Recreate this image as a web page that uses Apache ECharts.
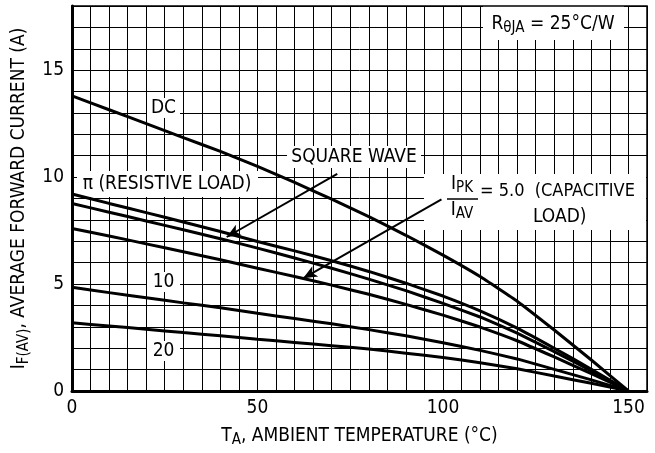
<!DOCTYPE html>
<html><head><meta charset="utf-8">
<script src="https://cdn.jsdelivr.net/npm/echarts@6/dist/echarts.min.js"></script>
<style>html,body{margin:0;padding:0;background:#fff}#c{width:655px;height:453px}</style>
</head><body><div id="c"></div>
<script>
const temps = [0,10,20,30,40,50,60,70,80,90,100,110,120,130,140,150];
const dc      = [13.8,13.15,12.5,11.85,11.2,10.5,9.75,8.97,8.15,7.28,6.35,5.35,4.2,2.85,1.45,0];
const resist  = [9.21,8.77,8.34,7.9,7.46,6.99,6.55,6.09,5.59,5.04,4.44,3.75,2.94,2.0,1.02,0];
const square  = [8.77,8.36,7.95,7.54,7.12,6.68,6.22,5.74,5.23,4.69,4.1,3.46,2.71,1.84,0.94,0];
const cap5    = [7.6,7.25,6.88,6.51,6.14,5.74,5.35,4.95,4.52,4.05,3.55,2.99,2.35,1.59,0.81,0];
const cap10   = [4.85,4.6,4.36,4.12,3.89,3.63,3.39,3.14,2.87,2.58,2.26,1.9,1.5,1.01,0.52,0];
const cap20   = [3.19,3.04,2.89,2.73,2.58,2.42,2.27,2.12,1.96,1.77,1.57,1.32,1.04,0.7,0.36,0];
const xTickLabels = [0,50,100,150];
const yTickLabels = [0,5,10,15];
const squareArrow = [[71.5,10.15],[41.7,7.2]];
const capArrow = [[99.6,8.96],[62.3,5.27]];

const F = "'Liberation Sans Narrow','Arial Narrow','DejaVu Sans Condensed',sans-serif";
const pairs = a => temps.map((t,i)=>[t,a[i]]);
const chart = echarts.init(document.getElementById('c'));
const mkSeries = (name, data) => ({
  name, type:'line', data: pairs(data), symbol:'none', smooth:0.1,
  lineStyle:{color:'#000', width:3}, z:3
});
const arrowLine = (pts) => [{coord:pts[0]},{coord:pts[1]}];

const labelBox = (cx, cy, w, h) => ({type:'rect', z:1, shape:{x:cx, y:cy, width:w, height:h}, style:{fill:'#fff'}});
const txt = (x, y, text, extra) => Object.assign({type:'text', z:2, x, y,
  style:Object.assign({text, font:"19px "+F, fill:'#000', align:'center', verticalAlign:'middle'}, extra||{})});

const subRich = {
  n:{fontFamily:F, fontSize:19, color:'#000'},
  s:{fontFamily:F, fontSize:15, color:'#000', padding:[9,0,0,0]}
};

chart.setOption({
  animation:false,
  grid:{left:72, right:8, top:6, bottom:62},
  xAxis:{type:'value', min:0, max:155, interval:5,
    name:'{n|T}{s|A}{n|, AMBIENT TEMPERATURE (°C)}', nameLocation:'middle', nameGap:33,
    nameTextStyle:{rich:subRich},
    axisLine:{show:true, onZero:false, lineStyle:{color:'#000', width:3}},
    axisTick:{show:false},
    axisLabel:{fontFamily:F, fontSize:19, color:'#000', margin:8, showMaxLabel:false,
      formatter:v => xTickLabels.indexOf(v)>=0 ? String(v) : ''},
    splitLine:{show:true, lineStyle:{color:'#000', width:1}}
  },
  yAxis:{type:'value', min:0, max:18, interval:1,
    name:'{n|I}{s|F(AV)}{n|, AVERAGE FORWARD CURRENT (A)}', nameLocation:'middle', nameGap:38, nameRotate:90,
    nameTextStyle:{rich:subRich},
    axisLine:{show:true, lineStyle:{color:'#000', width:3}},
    axisTick:{show:false},
    axisLabel:{fontFamily:F, fontSize:19, color:'#000', margin:8,
      formatter:v => yTickLabels.indexOf(v)>=0 ? String(v) : ''},
    splitLine:{show:true, lineStyle:{color:'#000', width:1}}
  },
  graphic:[
    {type:'rect', z:5, silent:true, shape:{x:72, y:6, width:575, height:385}, style:{fill:'none', stroke:'#000', lineWidth:1.5}},
    labelBox(147, 98, 33, 20), txt(163.5, 108, 'DC'),
    labelBox(77, 171, 181, 26), txt(167, 184, 'π (RESISTIVE LOAD)'),
    labelBox(287, 146, 134, 22), txt(354, 157, 'SQUARE WAVE'),
    labelBox(147, 272, 33, 20), txt(163.5, 282, '10'),
    labelBox(147, 341, 33, 20), txt(163.5, 351, '20'),
    labelBox(483, 6, 141, 34),
    {type:'text', z:2, x:553, y:24, style:{text:'{n|R}{s|θJA}{n| = 25°C/W}', rich:subRich, align:'center', verticalAlign:'middle'}},
    labelBox(424, 174, 222, 56),
    {type:'text', z:2, x:462, y:184, style:{text:'{n|I}{s|PK}', rich:subRich, align:'center', verticalAlign:'middle'}},
    {type:'line', z:2, shape:{x1:447, y1:199, x2:478, y2:199}, style:{stroke:'#000', lineWidth:1.5}},
    {type:'text', z:2, x:462, y:210, style:{text:'{n|I}{s|AV}', rich:subRich, align:'center', verticalAlign:'middle'}},
    txt(480, 191, '= 5.0  (CAPACITIVE', {align:'left', font:"18px "+F}),
    txt(533, 217, 'LOAD)', {align:'left'})
  ],
  series:[
    mkSeries('DC', dc),
    mkSeries('Resistive', resist),
    Object.assign(mkSeries('Square', square), {
      markLine:{silent:true, symbol:['none','arrow'], symbolSize:[9,14], label:{show:false},
        lineStyle:{color:'#000', width:2, type:'solid'},
        data:[arrowLine(squareArrow), arrowLine(capArrow)]}
    }),
    mkSeries('Cap5', cap5),
    mkSeries('Cap10', cap10),
    mkSeries('Cap20', cap20)
  ]
});
</script></body></html>
